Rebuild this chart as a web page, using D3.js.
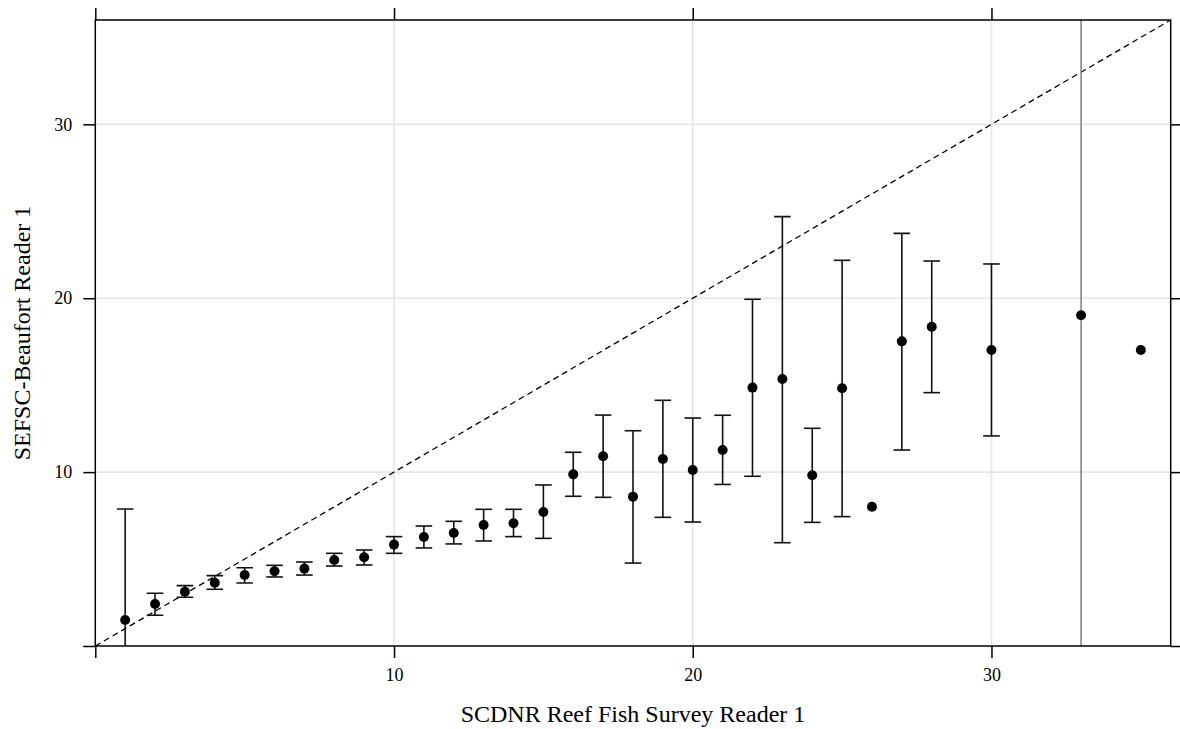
<!DOCTYPE html>
<html>
<head>
<meta charset="utf-8">
<script src="https://cdn.jsdelivr.net/npm/d3@7"></script>
<style>
  html, body { margin: 0; padding: 0; background: #ffffff; }
  svg { display: block; }
  text { font-family: "Liberation Serif", "Times New Roman", serif; fill: #000; }
</style>
</head>
<body>
<svg id="chart" width="1180" height="729"></svg>
<script>
// ---- data ----
const readerX = [1,2,3,4,5,6,7,8,9,10,11,12,13,14,15,16,17,18,19,20,21,22,23,24,25,26,27,28,30,33,35];
const meanY   = [1.50,2.42,3.12,3.64,4.08,4.30,4.45,4.95,5.10,5.83,6.27,6.50,6.96,7.06,7.71,9.87,10.91,8.59,10.75,10.12,11.27,14.86,15.35,9.82,14.82,8.01,17.52,18.36,17.02,19.02,17.02];
const upperY  = [7.88,3.03,3.47,4.05,4.50,4.64,4.83,5.33,5.52,6.29,6.90,7.17,7.86,7.86,9.26,11.14,13.28,12.38,14.13,13.11,13.27,19.94,24.69,12.52,22.18,null,23.73,22.14,21.97,60.0,null];
const lowerY  = [-4.88,1.77,2.80,3.26,3.62,3.97,4.08,4.60,4.66,5.33,5.64,5.87,6.04,6.29,6.19,8.61,8.55,4.77,7.40,7.13,9.29,9.76,5.94,7.11,7.44,null,11.27,14.57,12.08,-22.0,null];
const tickValues = [0,10,20,30];
const tickLabels = ["","10","20","30"];
const axisDomain = [0,36];
const xTitle = "SCDNR Reef Fish Survey Reader 1";
const yTitle = "SEFSC-Beaufort Reader 1";

// ---- layout ----
const svg = d3.select("#chart");
const L = 95.3, R = 1170.7, T = 20, B = 646;
const x = d3.scaleLinear().domain(axisDomain).range([L, R]);
const y = d3.scaleLinear().domain(axisDomain).range([B, T]);

const data = readerX.map((d, i) => ({x: d, m: meanY[i], hi: upperY[i], lo: lowerY[i]}));

svg.append("defs").append("clipPath").attr("id", "plotclip")
  .append("rect").attr("x", L).attr("y", T).attr("width", R - L).attr("height", B - T);

// grid lines
const grid = svg.append("g");
tickValues.filter(v => v > 0).forEach(v => {
  grid.append("line").attr("x1", x(v)).attr("x2", x(v)).attr("y1", T).attr("y2", B)
    .attr("stroke", "#e6e6e6").attr("stroke-width", 1.6);
  grid.append("line").attr("x1", L).attr("x2", R).attr("y1", y(v)).attr("y2", y(v))
    .attr("stroke", "#e6e6e6").attr("stroke-width", 1.6);
});

const plot = svg.append("g").attr("clip-path", "url(#plotclip)");

// reference line y = x
plot.append("line")
  .attr("x1", x(axisDomain[0])).attr("y1", y(axisDomain[0]))
  .attr("x2", x(axisDomain[1])).attr("y2", y(axisDomain[1]))
  .attr("stroke", "#000").attr("stroke-width", 1.3).attr("stroke-dasharray", "6,4");

// error bars
const bars = data.filter(d => d.hi !== null && d.lo !== null);
const capHalf = 8.3;
const eb = plot.append("g").attr("stroke", "#111").attr("stroke-width", 1.6);
eb.selectAll("line.v").data(bars).enter().append("line").attr("class", "v")
  .attr("x1", d => x(d.x)).attr("x2", d => x(d.x))
  .attr("y1", d => y(d.lo)).attr("y2", d => y(d.hi))
  .attr("stroke", d => (d.hi > axisDomain[1] ? "#888" : null));
eb.selectAll("line.hi").data(bars).enter().append("line").attr("class", "hi")
  .attr("x1", d => x(d.x) - capHalf).attr("x2", d => x(d.x) + capHalf)
  .attr("y1", d => y(d.hi)).attr("y2", d => y(d.hi));
eb.selectAll("line.lo").data(bars).enter().append("line").attr("class", "lo")
  .attr("x1", d => x(d.x) - capHalf).attr("x2", d => x(d.x) + capHalf)
  .attr("y1", d => y(d.lo)).attr("y2", d => y(d.lo));

// points
plot.selectAll("circle").data(data).enter().append("circle")
  .attr("cx", d => x(d.x)).attr("cy", d => y(d.m)).attr("r", 5).attr("fill", "#000");

// frame
svg.append("rect").attr("x", L).attr("y", T).attr("width", R - L).attr("height", B - T)
  .attr("fill", "none").attr("stroke", "#000").attr("stroke-width", 1.5);

// axes (ticks on all four sides, labels on bottom and left)
const fmt = v => tickLabels[tickValues.indexOf(v)];
const axB = d3.axisBottom(x).tickValues(tickValues).tickFormat(fmt).tickSize(12).tickPadding(10);
const axT = d3.axisTop(x).tickValues(tickValues).tickFormat("").tickSize(12);
const axL = d3.axisLeft(y).tickValues(tickValues).tickFormat(fmt).tickSize(12).tickPadding(11);
const axR = d3.axisRight(y).tickValues(tickValues).tickFormat("").tickSize(12);

function style(g) {
  g.select(".domain").remove();
  g.selectAll(".tick line").attr("stroke", "#000").attr("stroke-width", 1.5);
  g.selectAll(".tick text").attr("font-family", "Liberation Serif, Times New Roman, serif")
    .attr("font-size", 18).attr("fill", "#000");
}
svg.append("g").attr("transform", `translate(0,${B})`).call(axB).call(style);
svg.append("g").attr("transform", `translate(0,${T})`).call(axT).call(style);
svg.append("g").attr("transform", `translate(${L},0)`).call(axL).call(style);
svg.append("g").attr("transform", `translate(${R},0)`).call(axR).call(style);

// titles
svg.append("text").attr("x", (L + R) / 2).attr("y", 722)
  .attr("text-anchor", "middle").attr("font-size", 24).text(xTitle);
svg.append("text").attr("transform", `translate(30,${(T + B) / 2}) rotate(-90)`)
  .attr("text-anchor", "middle").attr("font-size", 24).text(yTitle);
</script>
</body>
</html>
